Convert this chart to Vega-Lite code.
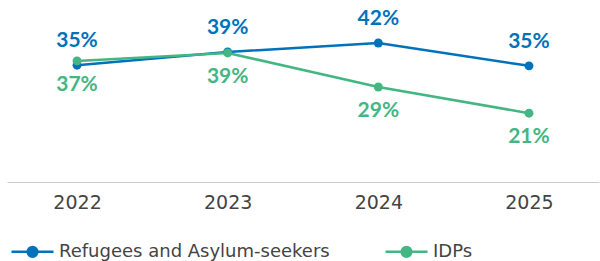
{
  "$schema": "https://vega.github.io/schema/vega-lite/v6.json",
  "width": 592,
  "height": 182,
  "autosize": {"type": "none"},
  "padding": {"left": 7, "top": 0, "right": 1, "bottom": 79},
  "background": "white",
  "config": {"view": {"stroke": null}, "font": "Lato"},
  "data": {
    "values": [
      {"year": "2022", "series": "Refugees and Asylum-seekers", "value": 0.353},
      {"year": "2023", "series": "Refugees and Asylum-seekers", "value": 0.393},
      {"year": "2024", "series": "Refugees and Asylum-seekers", "value": 0.42},
      {"year": "2025", "series": "Refugees and Asylum-seekers", "value": 0.351},
      {"year": "2022", "series": "IDPs", "value": 0.366},
      {"year": "2023", "series": "IDPs", "value": 0.39},
      {"year": "2024", "series": "IDPs", "value": 0.287},
      {"year": "2025", "series": "IDPs", "value": 0.208}
    ]
  },
  "encoding": {
    "x": {
      "field": "year",
      "type": "ordinal",
      "scale": {"type": "point", "padding": 0.465},
      "axis": {
        "title": null,
        "labelAngle": 0,
        "ticks": false,
        "domainColor": "#cccccc",
        "domainWidth": 1,
        "labelFontSize": 19,
        "labelColor": "#444444",
        "labelPadding": 11,
        "labelFont": "DejaVu Sans"
      }
    },
    "y": {
      "field": "value",
      "type": "quantitative",
      "scale": {"domain": [0, 0.55], "nice": false, "zero": true},
      "axis": null
    }
  },
  "layer": [
    {
      "mark": {"type": "line", "strokeWidth": 2.5, "point": {"size": 80, "filled": true, "opacity": 1}},
      "encoding": {
        "color": {
          "field": "series",
          "type": "nominal",
          "sort": ["Refugees and Asylum-seekers", "IDPs"],
          "scale": {"domain": ["Refugees and Asylum-seekers", "IDPs"], "range": ["#0072BC", "#44B683"]},
          "legend": {
            "orient": "none",
            "legendX": 3,
            "legendY": 229,
            "direction": "horizontal",
            "title": null,
            "symbolType": "M-1,0H1M-0.23,0A0.23,0.23,0,1,1,0.23,0A0.23,0.23,0,1,1,-0.23,0",
            "symbolSize": 1764,
            "symbolStrokeWidth": 2.5,
            "symbolOpacity": 1,
            "labelFontSize": 18,
            "labelFont": "DejaVu Sans",
            "labelColor": "#444444",
            "labelOffset": 4,
            "columnPadding": 50,
            "labelLimit": 400,
            "encode": {
              "symbols": {"update": {"fill": {"signal": "scale('color', datum.value)"}}}
            }
          }
        }
      }
    },
    {
      "transform": [{"filter": "datum.series === 'Refugees and Asylum-seekers'"}],
      "mark": {"type": "text", "dy": -24, "fontSize": 21, "fontWeight": "bold", "color": "#0072BC", "baseline": "middle", "font": "Lato"},
      "encoding": {"text": {"field": "value", "type": "quantitative", "format": ".0%"}}
    },
    {
      "transform": [{"filter": "datum.series === 'IDPs'"}],
      "mark": {"type": "text", "dy": 24, "fontSize": 21, "fontWeight": "bold", "color": "#44B683", "baseline": "middle", "font": "Lato"},
      "encoding": {"text": {"field": "value", "type": "quantitative", "format": ".0%"}}
    }
  ]
}
